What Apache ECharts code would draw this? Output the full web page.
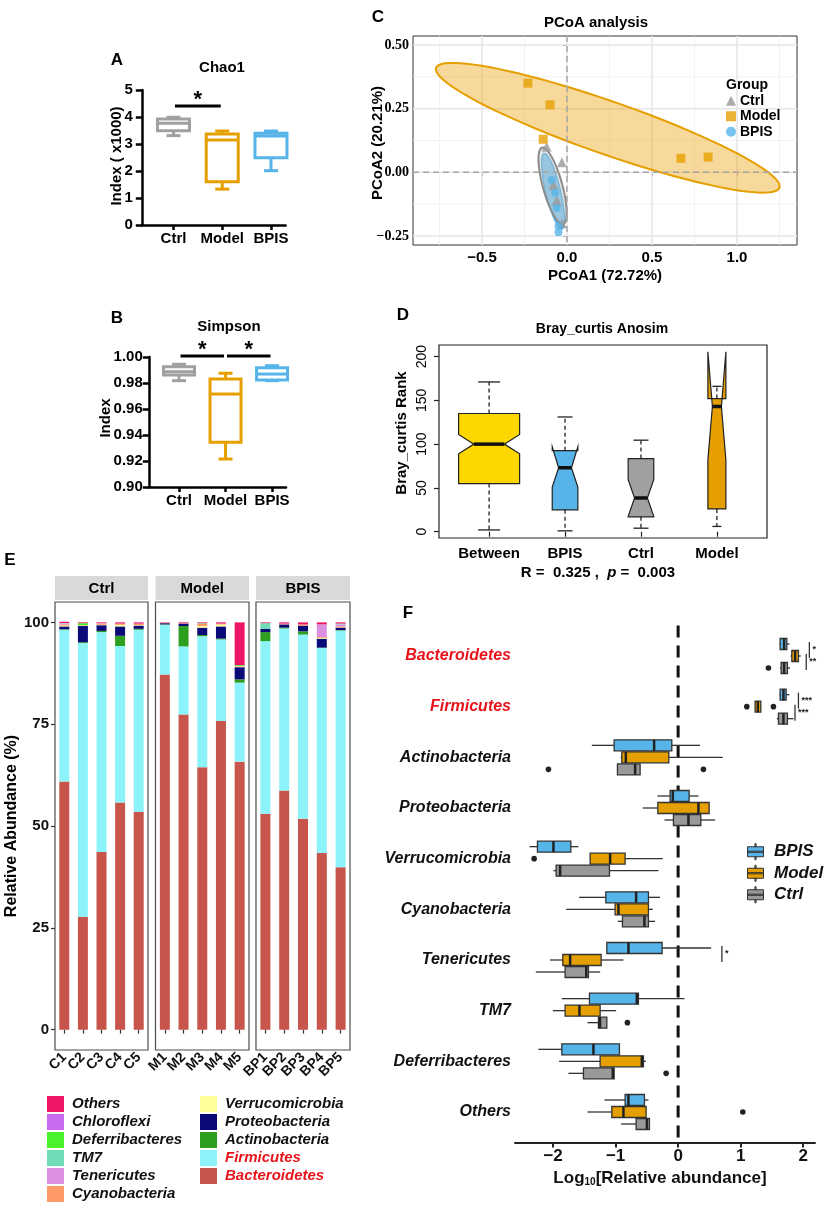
<!DOCTYPE html>
<html><head><meta charset="utf-8">
<script src="https://cdn.jsdelivr.net/npm/echarts@6/dist/echarts.min.js"></script>
<style>html,body{margin:0;padding:0;background:#fff}#c{width:829px;height:1207px}</style>
</head><body><div id="c"></div><script>
// ---------------- DATA ----------------
// Panel A / B : alpha diversity boxes [min, q1, median, q3, max]
const alphaGroups = ['Ctrl', 'Model', 'BPIS'];
const chao1Box = [[3.31, 3.49, 3.77, 3.93, 3.99], [1.33, 1.60, 3.15, 3.37, 3.48], [2.01, 2.49, 3.30, 3.40, 3.48]];
const chao1Sig = [{ from: 1, to: 2, y: 4.41, label: '*' }];
const simpsonBox = [[0.9818, 0.9862, 0.9887, 0.9925, 0.9944], [0.9215, 0.9344, 0.9715, 0.9831, 0.9875], [0.9818, 0.9823, 0.9869, 0.9918, 0.9933]];
const simpsonSig = [{ from: 1, to: 2, y: 1.0008, label: '*' }, { from: 2, to: 3, y: 1.0008, label: '*' }];
const chao1Ticks = [0, 1, 2, 3, 4, 5];
const simpsonTicks = [0.90, 0.92, 0.94, 0.96, 0.98, 1.00];

// Panel C : PCoA
const pcoaCtrl = [[-0.12, 0.10], [-0.03, 0.04], [-0.08, -0.05], [-0.06, -0.11], [-0.03, -0.20]];
const pcoaModel = [[-0.23, 0.35], [-0.10, 0.265], [-0.14, 0.13], [0.67, 0.055], [0.83, 0.06]];
const pcoaBPIS = [[-0.09, -0.03], [-0.07, -0.08], [-0.06, -0.14], [-0.05, -0.21], [-0.05, -0.235]];
// ellipse: [centerX, centerY, axis1X, axis1Y, axis2X, axis2Y]
const ellipseModel = [0.24, 0.175, 1.01, -0.235, 0.051, 0.098];
const ellipseBPIS = [-0.082, -0.074, 0.053, -0.148, -0.042, -0.007];
const ellipseCtrl = [-0.085, -0.053, 0.062, -0.150, -0.055, -0.010];
const pcoaXTicks = [-0.5, 0, 0.5, 1.0];
const pcoaYTicks = [-0.25, 0, 0.25, 0.5];
const pcoaXMinor = [-0.75, -0.25, 0.25, 0.75, 1.25];
const pcoaYMinor = [-0.125, 0.125, 0.375];

// Panel D : ANOSIM notched boxes [lowWhisker, q1, median, q3, highWhisker, notchLow, notchHigh]
const anosimGroups = ['Between', 'BPIS', 'Ctrl', 'Model'];
const anosimBox = [[2, 55, 100, 135, 171, 89, 111], [1, 25, 73, 92.5, 131, 51, 97], [4, 17, 38.5, 83.5, 104.5, 17.5, 59.5], [6, 26, 143, 152, 166, 82, 205.5]];
const anosimTicks = [0, 50, 100, 150, 200];

// Panel E : relative abundance (%) per sample
const eSamples = ['C1', 'C2', 'C3', 'C4', 'C5', 'M1', 'M2', 'M3', 'M4', 'M5', 'BP1', 'BP2', 'BP3', 'BP4', 'BP5'];
const eFacets = ['Ctrl', 'Model', 'BPIS'];
const phyla = ['Bacteroidetes', 'Firmicutes', 'Actinobacteria', 'Proteobacteria', 'Verrucomicrobia', 'Cyanobacteria', 'Tenericutes', 'TM7', 'Deferribacteres', 'Chloroflexi', 'Others'];
const eBacteroidetes = [60.9, 27.7, 43.6, 55.8, 53.5, 87.2, 77.4, 64.4, 75.8, 65.8, 53.0, 58.7, 51.8, 43.4, 39.9];
const eFirmicutes = [37.3, 67.2, 54.0, 38.4, 44.7, 12.2, 16.7, 32.2, 20.0, 19.4, 42.4, 39.8, 45.2, 50.3, 58.1];
const eActinobacteria = [0.1, 0.2, 0.3, 2.5, 0.2, 0.1, 5.0, 0.3, 0.2, 0.8, 2.2, 0.2, 0.8, 0.1, 0.1];
const eProteobacteria = [0.7, 4.0, 1.4, 2.3, 0.8, 0.3, 0.6, 1.8, 3.0, 3.0, 0.8, 0.8, 1.4, 2.2, 0.6];
const eVerrucomicrobia = [0.2, 0.1, 0.1, 0.4, 0.1, 0.0, 0.0, 0.4, 0.5, 0.2, 0.0, 0.0, 0.0, 0.2, 0.0];
const eCyanobacteria = [0.3, 0.1, 0.3, 0.3, 0.3, 0.1, 0.1, 0.5, 0.2, 0.1, 0.0, 0.1, 0.3, 0.2, 0.3];
const eTenericutes = [0.2, 0.0, 0.1, 0.0, 0.1, 0.0, 0.0, 0.1, 0.0, 0.0, 0.0, 0.1, 0.0, 3.1, 0.5];
const eTM7 = [0.1, 0.0, 0.0, 0.0, 0.0, 0.0, 0.0, 0.0, 0.0, 0.0, 1.4, 0.0, 0.0, 0.0, 0.2];
const eDeferribacteres = [0.0, 0.5, 0.0, 0.0, 0.0, 0.0, 0.0, 0.1, 0.0, 0.2, 0.0, 0.0, 0.0, 0.0, 0.0];
const eChloroflexi = [0.05, 0.0, 0.0, 0.0, 0.0, 0.0, 0.0, 0.0, 0.0, 0.0, 0.0, 0.0, 0.0, 0.0, 0.0];
const eOthers = [0.3, 0.2, 0.2, 0.3, 0.3, 0.1, 0.2, 0.2, 0.3, 10.5, 0.2, 0.3, 0.5, 0.5, 0.3];
const eTicks = [0, 25, 50, 75, 100];

// Panel F : log10 relative abundance boxes [min, q1, median, q3, max]
const fPhyla = ['Bacteroidetes', 'Firmicutes', 'Actinobacteria', 'Proteobacteria', 'Verrucomicrobia', 'Cyanobacteria', 'Tenericutes', 'TM7', 'Deferribacteres', 'Others'];
const fBPIS = [[1.62, 1.632, 1.696, 1.739, 1.78], [1.62, 1.632, 1.685, 1.728, 1.78], [-1.381, -1.024, -0.384, -0.101, 0.352], [-0.331, -0.128, -0.085, 0.176, 0.325], [-2.379, -2.251, -1.995, -1.717, -1.595], [-1.584, -1.157, -0.672, -0.475, -0.288], [-1.141, -1.141, -0.795, -0.256, 0.528], [-1.861, -1.419, -0.661, -0.635, 0.101], [-2.235, -1.861, -1.355, -0.939, -0.939], [-1.179, -0.848, -0.795, -0.539, -0.475]];
const fModel = [[1.80, 1.819, 1.872, 1.925, 1.963], [1.232, 1.232, 1.275, 1.323, 1.323], [-0.92, -0.901, -0.837, -0.149, 0.715], [-0.565, -0.325, 0.325, 0.496, 0.496], [-1.408, -1.408, -1.088, -0.848, -0.245], [-1.792, -1.008, -0.955, -0.475, -0.405], [-2.048, -1.845, -1.728, -1.232, -0.875], [-2.005, -1.808, -1.579, -1.248, -0.992], [-1.904, -1.248, -0.581, -0.555, -0.517], [-1.451, -1.061, -0.875, -0.512, -0.512]];
const fCtrl = [[1.632, 1.648, 1.696, 1.749, 1.79], [1.58, 1.605, 1.685, 1.749, 1.845], [-0.971, -0.971, -0.688, -0.608, -0.608], [-0.219, -0.075, 0.165, 0.363, 0.592], [-1.995, -1.952, -1.888, -1.099, -0.315], [-0.965, -0.891, -0.539, -0.475, -0.368], [-2.277, -1.808, -1.47, -1.435, -1.248], [-1.451, -1.275, -1.25, -1.141, -1.141], [-1.755, -1.515, -1.045, -1.024, -1.024], [-0.912, -0.672, -0.50, -0.459, -0.459]];
// outliers [phylumIndex(1-based), value]
const fOutModel = [[2, 1.099], [2, 1.525], [5, -2.304], [10, 1.035]];
const fOutCtrl = [[1, 1.445], [3, -2.075], [3, 0.405], [8, -0.811], [9, -0.192]];
const fSig = [{ cat: 1, from: 'BPIS', to: 'Model', x: 2.10, label: '*' }, { cat: 1, from: 'Model', to: 'Ctrl', x: 2.05, label: '**' }, { cat: 2, from: 'BPIS', to: 'Model', x: 1.925, label: '***' }, { cat: 2, from: 'Model', to: 'Ctrl', x: 1.87, label: '***' }, { cat: 7, from: 'BPIS', to: 'Model', x: 0.70, label: '*' }];
const fTicks = [-2, -1, 0, 1, 2];

// ---------------- STYLE ----------------
const FONT = "'Liberation Sans', Arial, sans-serif";
const SERIF = "'Liberation Serif', 'Times New Roman', serif";
const GCOL = { Ctrl: '#A0A0A0', Model: '#E69F00', BPIS: '#56B4E9' };
const phylaColors = { Bacteroidetes: '#C8554B', Firmicutes: '#8DF3FA', Actinobacteria: '#2E9E1E', Proteobacteria: '#0A0A78', Verrucomicrobia: '#FFFF99', Cyanobacteria: '#FF9966', Tenericutes: '#DA8FE0', TM7: '#6EDDB5', Deferribacteres: '#4AF22E', Chloroflexi: '#C96BEF', Others: '#EE1767' };
const RED = '#E8141C';
const minus = s => String(s).replace('-', '\u2212');

const grids = [], xAxes = [], yAxes = [], series = [], graphics = [], legends = [];
function addGrid(g, x, y) { const i = grids.length; grids.push(g); xAxes.push(Object.assign({ gridIndex: i }, x)); yAxes.push(Object.assign({ gridIndex: i }, y)); return i; }
function txt(x, y, text, o) {
  o = o || {};
  graphics.push({ type: 'text', x: x, y: y, rotation: o.rot || 0, silent: true, style: Object.assign({ text: text, font: (o.italic ? 'italic ' : '') + (o.weight || 'bold') + ' ' + (o.size || 15) + 'px ' + (o.family || FONT), fill: o.color || '#000', align: o.align || 'center', verticalAlign: 'middle' }, o.extra || {}) });
}

// ---------- Panel A & B (GraphPad style boxes) ----------
function gpBoxRender(halfW, capHalf) {
  return function (params, api) {
    const x = api.value(0);
    const cx = api.coord([x, api.value(3)])[0];
    const Y = v => api.coord([x, v])[1];
    const mn = Y(api.value(1)), q1 = Y(api.value(2)), md = Y(api.value(3)), q3 = Y(api.value(4)), mx = Y(api.value(5));
    const color = GCOL[alphaGroups[params.dataIndex]];
    const ls = { stroke: color, lineWidth: 3, fill: null };
    return { type: 'group', children: [
      { type: 'line', shape: { x1: cx, y1: q3, x2: cx, y2: mx }, style: ls },
      { type: 'line', shape: { x1: cx - capHalf, y1: mx, x2: cx + capHalf, y2: mx }, style: ls },
      { type: 'line', shape: { x1: cx, y1: q1, x2: cx, y2: mn }, style: ls },
      { type: 'line', shape: { x1: cx - capHalf, y1: mn, x2: cx + capHalf, y2: mn }, style: ls },
      { type: 'rect', shape: { x: cx - halfW, y: q3, width: 2 * halfW, height: q1 - q3 }, style: { fill: '#fff', stroke: color, lineWidth: 3 } },
      { type: 'line', shape: { x1: cx - halfW, y1: md, x2: cx + halfW, y2: md }, style: ls }
    ] };
  };
}
function sigRender(arr) {
  return function (params, api) {
    const s = arr[params.dataIndex];
    const a = api.coord([s.from, s.y]), b = api.coord([s.to, s.y]);
    return { type: 'group', children: [
      { type: 'line', shape: { x1: a[0] + 1.5, y1: a[1], x2: b[0] - 1.5, y2: b[1] }, style: { stroke: '#000', lineWidth: 3 } },
      { type: 'text', x: (a[0] + b[0]) / 2, y: a[1] - 6, style: { text: s.label, font: 'bold 22px ' + FONT, fill: '#000', align: 'center', verticalAlign: 'middle' } }
    ] };
  };
}
function alphaAxes(min, max, ticks, fmt, margin) {
  return [
    { type: 'value', min: 0.35, max: 3.3, splitLine: { show: false },
      axisLine: { show: true, lineStyle: { color: '#000', width: 2.5 } },
      axisTick: { show: true, customValues: [1, 2, 3], length: 5, lineStyle: { color: '#000', width: 2.5 } },
      axisLabel: { customValues: [1, 2, 3], formatter: v => alphaGroups[Math.round(v) - 1] || '', color: '#000', fontWeight: 'bold', fontSize: 15, fontFamily: FONT, margin: 6 } },
    { type: 'value', min: min, max: max, splitLine: { show: false },
      axisLine: { show: true, lineStyle: { color: '#000', width: 2.5 } },
      axisTick: { show: true, customValues: ticks, length: 6, lineStyle: { color: '#000', width: 2.5 } },
      axisLabel: { customValues: ticks, formatter: fmt, color: '#000', fontWeight: 'bold', fontSize: 15, fontFamily: FONT, margin: margin } }
  ];
}
const axA = alphaAxes(0, 5, chao1Ticks, v => String(v), 9);
const gA = addGrid({ left: 141.8, top: 90, width: 143.8, height: 135 }, axA[0], axA[1]);
series.push({ type: 'custom', name: 'chao1', xAxisIndex: gA, yAxisIndex: gA, renderItem: gpBoxRender(16, 7), encode: { x: 0, y: [1, 2, 3, 4, 5] }, data: chao1Box.map((b, i) => [i + 1].concat(b)), z: 3 });
series.push({ type: 'custom', name: 'chao1sig', xAxisIndex: gA, yAxisIndex: gA, renderItem: sigRender(chao1Sig), encode: { x: 0, y: 2 }, data: chao1Sig.map(s => [s.from, s.to, s.y]), z: 3 });
const axB = alphaAxes(0.9, 1.0, simpsonTicks, v => v.toFixed(2), 6);
const gB = addGrid({ left: 148.8, top: 357, width: 137.2, height: 130 }, axB[0], axB[1]);
series.push({ type: 'custom', name: 'simpson', xAxisIndex: gB, yAxisIndex: gB, renderItem: gpBoxRender(15.5, 7), encode: { x: 0, y: [1, 2, 3, 4, 5] }, data: simpsonBox.map((b, i) => [i + 1].concat(b)), z: 3 });
series.push({ type: 'custom', name: 'simpsonsig', xAxisIndex: gB, yAxisIndex: gB, renderItem: sigRender(simpsonSig), encode: { x: 0, y: 2 }, data: simpsonSig.map(s => [s.from, s.to, s.y]), z: 3 });
txt(117, 60, 'A', { size: 17 });
txt(222, 68, 'Chao1', { size: 15 });
txt(117, 156, 'Index ( x1000)', { size: 15, rot: Math.PI / 2 });
txt(117, 318, 'B', { size: 17 });
txt(229, 327, 'Simpson', { size: 15 });
txt(106, 418, 'Index', { size: 15, rot: Math.PI / 2 });

// ---------- Panel C (PCoA) ----------
const gC = addGrid({ left: 413, top: 36, width: 384, height: 209, show: true, borderColor: '#333', borderWidth: 1, backgroundColor: '#fff' },
  { type: 'value', min: -0.906, max: 1.353, splitLine: { show: false }, axisLine: { show: false },
    axisTick: { show: true, customValues: pcoaXTicks, length: 4, lineStyle: { color: '#333', width: 1 } },
    axisLabel: { customValues: pcoaXTicks, formatter: v => minus(v.toFixed(1)), color: '#000', fontWeight: 'bold', fontSize: 15, fontFamily: FONT, margin: 5 } },
  { type: 'value', min: -0.285, max: 0.535, splitLine: { show: false }, axisLine: { show: false },
    axisTick: { show: true, customValues: pcoaYTicks, length: 4, lineStyle: { color: '#333', width: 1 } },
    axisLabel: { customValues: pcoaYTicks, formatter: v => minus(v.toFixed(2)), color: '#000', fontWeight: 'bold', fontSize: 14, fontFamily: SERIF, margin: 4 } });
function gridLineRender(vertical, width, color, dash) {
  return function (params, api) {
    const cs = params.coordSys;
    const v = api.value(0);
    if (vertical) { const x = api.coord([v, 0])[0]; return { type: 'line', shape: { x1: x, y1: cs.y, x2: x, y2: cs.y + cs.height }, style: { stroke: color, lineWidth: width, lineDash: dash || null } }; }
    const y = api.coord([0, v])[1]; return { type: 'line', shape: { x1: cs.x, y1: y, x2: cs.x + cs.width, y2: y }, style: { stroke: color, lineWidth: width, lineDash: dash || null } };
  };
}
series.push({ type: 'custom', name: 'gxm', xAxisIndex: gC, yAxisIndex: gC, silent: true, renderItem: gridLineRender(true, 0.8, '#EFEFEF'), encode: { x: 0 }, data: pcoaXMinor.map(v => [v]) });
series.push({ type: 'custom', name: 'gym', xAxisIndex: gC, yAxisIndex: gC, silent: true, renderItem: gridLineRender(false, 0.8, '#EFEFEF'), encode: { y: 0 }, data: pcoaYMinor.map(v => [v]) });
series.push({ type: 'custom', name: 'gxM', xAxisIndex: gC, yAxisIndex: gC, silent: true, renderItem: gridLineRender(true, 1.5, '#E6E6E6'), encode: { x: 0 }, data: pcoaXTicks.map(v => [v]) });
series.push({ type: 'custom', name: 'gyM', xAxisIndex: gC, yAxisIndex: gC, silent: true, renderItem: gridLineRender(false, 1.5, '#E6E6E6'), encode: { y: 0 }, data: pcoaYTicks.map(v => [v]) });
function ellipseRender(fill, stroke, lw) {
  return function (params, api) {
    const c = [0, 1, 2, 3, 4, 5].map(i => api.value(i));
    const pts = [];
    for (let k = 0; k <= 90; k++) { const t = k / 90 * 2 * Math.PI; pts.push(api.coord([c[0] + c[2] * Math.cos(t) + c[4] * Math.sin(t), c[1] + c[3] * Math.cos(t) + c[5] * Math.sin(t)])); }
    return { type: 'polygon', shape: { points: pts }, style: { fill: fill, stroke: stroke, lineWidth: lw } };
  };
}
series.push({ type: 'custom', name: 'ellModel', xAxisIndex: gC, yAxisIndex: gC, silent: true, renderItem: ellipseRender('rgba(236,165,20,0.42)', '#E69F00', 2), encode: { x: 0, y: 1 }, data: [ellipseModel] });
series.push({ type: 'custom', name: 'ellBPIS', xAxisIndex: gC, yAxisIndex: gC, silent: true, renderItem: ellipseRender('rgba(86,180,233,0.7)', '#56B4E9', 1.5), encode: { x: 0, y: 1 }, data: [ellipseBPIS] });
series.push({ type: 'custom', name: 'ellCtrl', xAxisIndex: gC, yAxisIndex: gC, silent: true, renderItem: ellipseRender('rgba(190,190,190,0.35)', '#8C8C8C', 2), encode: { x: 0, y: 1 }, data: [ellipseCtrl] });
series.push({ type: 'custom', name: 'zeroX', xAxisIndex: gC, yAxisIndex: gC, silent: true, renderItem: gridLineRender(true, 1.5, '#A6A6A6', [6, 4]), encode: { x: 0 }, data: [[0]] });
series.push({ type: 'custom', name: 'zeroY', xAxisIndex: gC, yAxisIndex: gC, silent: true, renderItem: gridLineRender(false, 1.5, '#A6A6A6', [6, 4]), encode: { y: 0 }, data: [[0]] });
series.push({ type: 'scatter', name: 'Ctrl', xAxisIndex: gC, yAxisIndex: gC, symbol: 'triangle', symbolSize: 10, itemStyle: { color: '#999999' }, data: pcoaCtrl, z: 4 });
series.push({ type: 'scatter', name: 'Model', xAxisIndex: gC, yAxisIndex: gC, symbol: 'rect', symbolSize: 9, itemStyle: { color: '#E69F00' }, data: pcoaModel, z: 4 });
series.push({ type: 'scatter', name: 'BPIS', xAxisIndex: gC, yAxisIndex: gC, symbol: 'circle', symbolSize: 8, itemStyle: { color: '#56B4E9' }, data: pcoaBPIS, z: 4 });
legends.push({ left: 726, top: 93, orient: 'vertical', padding: 0, itemGap: 0, itemWidth: 10, itemHeight: 10, selectedMode: false,
  textStyle: { fontFamily: FONT, fontWeight: 'bold', fontSize: 14, color: '#000', lineHeight: 15.5, padding: [0, 0, 0, -1] },
  data: [{ name: 'Ctrl', icon: 'triangle' }, { name: 'Model', icon: 'rect' }, { name: 'BPIS', icon: 'circle' }] });
txt(726, 85, 'Group', { size: 14, align: 'left' });
txt(378, 17, 'C', { size: 17 });
txt(596, 23, 'PCoA analysis', { size: 15 });
txt(378, 143, 'PCoA2 (20.21%)', { size: 15, rot: Math.PI / 2 });
txt(605, 276, 'PCoA1 (72.72%)', { size: 15 });

// ---------- Panel D (ANOSIM) ----------
const dColors = ['#FFD700', '#56B4E9', '#A0A0A0', '#E69F00'];
const dHalf = [30.5, 12.8, 12.8, 9];
const dCap = [11, 7.5, 7.5, 4.5];
const gD = addGrid({ left: 439, top: 345, width: 328, height: 193, show: true, borderColor: '#222', borderWidth: 1.2, backgroundColor: '#fff' },
  { type: 'value', min: 0.34, max: 4.66, splitLine: { show: false }, axisLine: { show: false },
    axisTick: { show: true, customValues: [1, 2, 3, 4], length: 5, lineStyle: { color: '#222', width: 1.2 } },
    axisLabel: { customValues: [1, 2, 3, 4], formatter: v => anosimGroups[Math.round(v) - 1] || '', color: '#000', fontWeight: 'bold', fontSize: 15, fontFamily: FONT, margin: 8 } },
  { type: 'value', min: -7.2, max: 213.2, splitLine: { show: false }, axisLine: { show: false },
    axisTick: { show: true, customValues: anosimTicks, length: 5, lineStyle: { color: '#222', width: 1.2 } },
    axisLabel: { customValues: anosimTicks, rotate: 90, color: '#000', fontSize: 14, fontFamily: FONT, margin: 10 } });
function notchRender(params, api) {
  const i = params.dataIndex;
  const x = api.value(0);
  const v = [1, 2, 3, 4, 5, 6, 7].map(k => api.value(k));
  const cx = api.coord([x, v[2]])[0];
  const Y = t => api.coord([x, t])[1];
  const hw = dHalf[i], cap = dCap[i];
  const lw = Y(v[0]), q1 = Y(v[1]), md = Y(v[2]), q3 = Y(v[3]), uw = Y(v[4]), nl = Y(v[5]), nh = Y(v[6]);
  const pts = [[cx - hw, q1], [cx - hw, nl], [cx - hw / 2, md], [cx - hw, nh], [cx - hw, q3], [cx + hw, q3], [cx + hw, nh], [cx + hw / 2, md], [cx + hw, nl], [cx + hw, q1]];
  const dash = { stroke: '#222', lineWidth: 1.3, lineDash: [4, 3] };
  const solid = { stroke: '#222', lineWidth: 1.3 };
  return { type: 'group', children: [
    { type: 'polygon', shape: { points: pts }, style: { fill: dColors[i], stroke: '#222', lineWidth: 1.2 } },
    { type: 'line', shape: { x1: cx, y1: q3, x2: cx, y2: uw }, style: dash },
    { type: 'line', shape: { x1: cx, y1: q1, x2: cx, y2: lw }, style: dash },
    { type: 'line', shape: { x1: cx - cap, y1: uw, x2: cx + cap, y2: uw }, style: solid },
    { type: 'line', shape: { x1: cx - cap, y1: lw, x2: cx + cap, y2: lw }, style: solid },
    { type: 'line', shape: { x1: cx - hw / 2, y1: md, x2: cx + hw / 2, y2: md }, style: { stroke: '#111', lineWidth: 3.5 } }
  ] };
}
series.push({ type: 'custom', name: 'anosim', xAxisIndex: gD, yAxisIndex: gD, renderItem: notchRender, encode: { x: 0, y: [1, 2, 3, 4, 5] }, data: anosimBox.map((b, i) => [i + 1].concat(b)) });
txt(403, 315, 'D', { size: 17 });
txt(602, 329, 'Bray_curtis Anosim', { size: 14 });
txt(402, 433, 'Bray_curtis Rank', { size: 15, rot: Math.PI / 2 });
graphics.push({ type: 'text', x: 598, y: 573, silent: true, style: { text: 'R =  0.325 ,  {i|p} =  0.003', font: 'bold 15px ' + FONT, fill: '#000', align: 'center', verticalAlign: 'middle', rich: { i: { fontStyle: 'italic', fontWeight: 'bold', fontSize: 15, fontFamily: FONT } } } });

// ---------- Panel E (stacked bars, 3 facets) ----------
const eValues = { Bacteroidetes: eBacteroidetes, Firmicutes: eFirmicutes, Actinobacteria: eActinobacteria, Proteobacteria: eProteobacteria, Verrucomicrobia: eVerrucomicrobia, Cyanobacteria: eCyanobacteria, Tenericutes: eTenericutes, TM7: eTM7, Deferribacteres: eDeferribacteres, Chloroflexi: eChloroflexi, Others: eOthers };
const eFacetLeft = [55, 155.5, 256];
const eFacetW = [93, 93.5, 94];
eFacets.forEach((f, fi) => {
  const gi = addGrid({ left: eFacetLeft[fi], top: 602, width: eFacetW[fi], height: 448, show: true, borderColor: '#4D4D4D', borderWidth: 1.2, backgroundColor: '#fff' },
    { type: 'category', data: eSamples.slice(fi * 5, fi * 5 + 5), axisLine: { show: false },
      axisTick: { show: true, alignWithLabel: true, length: 4, lineStyle: { color: '#333', width: 1.2 } },
      axisLabel: { rotate: 45, color: '#111', fontWeight: 'bold', fontSize: 14, fontFamily: FONT, margin: 5, interval: 0 } },
    { type: 'value', min: -5, max: 105, show: fi === 0, splitLine: { show: false }, axisLine: { show: false },
      axisTick: { show: fi === 0, customValues: eTicks, length: 4, lineStyle: { color: '#333', width: 1.2 } },
      axisLabel: { show: fi === 0, customValues: eTicks, color: '#111', fontWeight: 'bold', fontSize: 15, fontFamily: FONT, margin: 6 } });
  phyla.forEach(p => {
    series.push({ type: 'bar', name: p, xAxisIndex: gi, yAxisIndex: gi, stack: 'E' + fi, barWidth: 10, itemStyle: { color: phylaColors[p] }, data: eValues[p].slice(fi * 5, fi * 5 + 5) });
  });
  graphics.push({ type: 'rect', silent: true, shape: { x: eFacetLeft[fi], y: 576, width: eFacetW[fi], height: 24 }, style: { fill: '#D9D9D9' } });
  txt(eFacetLeft[fi] + eFacetW[fi] / 2, 589, f, { size: 15 });
});
const legCol1 = ['Others', 'Chloroflexi', 'Deferribacteres', 'TM7', 'Tenericutes', 'Cyanobacteria'];
const legCol2 = ['Verrucomicrobia', 'Proteobacteria', 'Actinobacteria', 'Firmicutes', 'Bacteroidetes'];
[[legCol1, 47], [legCol2, 200]].forEach(([names, left]) => {
  legends.push({ left: left, top: 1095, orient: 'vertical', padding: 0, itemGap: 0, itemWidth: 17, itemHeight: 16, icon: 'rect', selectedMode: false,
    textStyle: { fontFamily: FONT, fontWeight: 'bold', fontStyle: 'italic', fontSize: 15, color: '#111', lineHeight: 18, padding: [0, 0, 0, 3] },
    data: names.map(n => (n === 'Firmicutes' || n === 'Bacteroidetes') ? { name: n, textStyle: { color: RED } } : { name: n }) });
});
txt(10, 560, 'E', { size: 17 });
txt(12, 826, 'Relative Abundance (%)', { size: 16, rot: Math.PI / 2 });

// ---------- Panel F (horizontal grouped boxes) ----------
const fOffset = { BPIS: -12, Model: 0, Ctrl: 12 };
const gF = addGrid({ left: 515, top: 625.6, width: 300, height: 516.8 },
  { type: 'value', min: -2.61, max: 2.19, splitLine: { show: false },
    axisLine: { show: true, lineStyle: { color: '#222', width: 2 } },
    axisTick: { show: true, customValues: fTicks, length: 5, lineStyle: { color: '#222', width: 2 } },
    axisLabel: { customValues: fTicks, formatter: v => minus(v), color: '#111', fontWeight: 'bold', fontSize: 17, fontFamily: FONT, margin: 5 } },
  { type: 'value', min: 0.4, max: 10.6, inverse: true, splitLine: { show: false }, axisLine: { show: false }, axisTick: { show: false },
    axisLabel: { customValues: fPhyla.map((p, i) => i + 1), margin: 4,
      formatter: v => { const n = fPhyla[Math.round(v) - 1]; if (!n) return ''; return (n === 'Bacteroidetes' || n === 'Firmicutes') ? '{r|' + n + '}' : '{k|' + n + '}'; },
      rich: { r: { color: RED, fontStyle: 'italic', fontWeight: 'bold', fontSize: 16, fontFamily: FONT }, k: { color: '#111', fontStyle: 'italic', fontWeight: 'bold', fontSize: 16, fontFamily: FONT } } } });
series.push({ type: 'custom', name: 'fZero', xAxisIndex: gF, yAxisIndex: gF, silent: true, renderItem: gridLineRender(true, 3, '#111', [12, 8]), encode: { x: 0 }, data: [[0]], z: 1 });
function fBoxRender(off, color) {
  return function (params, api) {
    const cat = api.value(0);
    const y = api.coord([0, cat])[1] + off;
    const X = v => api.coord([v, cat])[0];
    const mn = X(api.value(1)), q1 = X(api.value(2)), md = X(api.value(3)), q3 = X(api.value(4)), mx = X(api.value(5));
    const h = 5.5;
    const ls = { stroke: '#333', lineWidth: 1.3 };
    return { type: 'group', children: [
      { type: 'line', shape: { x1: mn, y1: y, x2: q1, y2: y }, style: ls },
      { type: 'line', shape: { x1: q3, y1: y, x2: mx, y2: y }, style: ls },
      { type: 'rect', shape: { x: q1, y: y - h, width: Math.max(q3 - q1, 1), height: 2 * h }, style: { fill: color, stroke: '#333', lineWidth: 1.3 } },
      { type: 'line', shape: { x1: md, y1: y - h, x2: md, y2: y + h }, style: { stroke: '#222', lineWidth: 2.5 } }
    ] };
  };
}
function fOutRender(off) {
  return function (params, api) { const p = api.coord([api.value(1), api.value(0)]); return { type: 'circle', shape: { cx: p[0], cy: p[1] + off, r: 2.8 }, style: { fill: '#222' } }; };
}
const fCol = { BPIS: '#56B4E9', Model: '#E69F00', Ctrl: '#999999' };
[['BPIS', fBPIS], ['Model', fModel], ['Ctrl', fCtrl]].forEach(([g, arr]) => {
  series.push({ type: 'custom', name: 'F-' + g, xAxisIndex: gF, yAxisIndex: gF, itemStyle: { color: fCol[g] }, renderItem: fBoxRender(fOffset[g], fCol[g]), encode: { x: [1, 2, 3, 4, 5], y: 0 }, data: arr.map((b, i) => [i + 1].concat(b)), z: 3 });
});
series.push({ type: 'custom', name: 'fOutModel', xAxisIndex: gF, yAxisIndex: gF, renderItem: fOutRender(fOffset.Model), encode: { x: 1, y: 0 }, data: fOutModel, z: 3 });
series.push({ type: 'custom', name: 'fOutCtrl', xAxisIndex: gF, yAxisIndex: gF, renderItem: fOutRender(fOffset.Ctrl), encode: { x: 1, y: 0 }, data: fOutCtrl, z: 3 });
series.push({ type: 'custom', name: 'fSig', xAxisIndex: gF, yAxisIndex: gF, encode: { x: 0, y: 1 }, data: fSig.map(s => [s.x, s.cat]), z: 3,
  renderItem: function (params, api) {
    const s = fSig[params.dataIndex];
    const p = api.coord([api.value(0), api.value(1)]);
    const y1 = p[1] + fOffset[s.from] - 2, y2 = p[1] + fOffset[s.to] + 2;
    return { type: 'group', children: [
      { type: 'line', shape: { x1: p[0], y1: y1, x2: p[0], y2: y2 }, style: { stroke: '#333', lineWidth: 1.3 } },
      { type: 'text', x: p[0] + 3, y: (y1 + y2) / 2, style: { text: s.label, font: 'bold 9px ' + FONT, fill: '#222', align: 'left', verticalAlign: 'middle' } }
    ] };
  } });
legends.push({ left: 747, top: 841, orient: 'vertical', padding: 0, itemGap: 0, itemWidth: 17, itemHeight: 16, selectedMode: false,
  icon: 'path://M0,3 H16 V13 H0 Z M0,7.4 H16 V8.6 H0 Z M7.4,0 H8.6 V3 H7.4 Z M7.4,13 H8.6 V16 H7.4 Z',
  itemStyle: { borderColor: '#333', borderWidth: 1 },
  formatter: n => n.replace('F-', ''),
  textStyle: { fontFamily: FONT, fontWeight: 'bold', fontStyle: 'italic', fontSize: 17, color: '#111', lineHeight: 21.5, padding: [0, 0, 0, 5] },
  data: ['F-BPIS', 'F-Model', 'F-Ctrl'] });
txt(408, 613, 'F', { size: 17 });
graphics.push({ type: 'text', x: 660, y: 1178, silent: true, style: { text: 'Log{s|10}[Relative abundance]', font: 'bold 17px ' + FONT, fill: '#111', align: 'center', verticalAlign: 'middle', rich: { s: { fontSize: 10, fontWeight: 'bold', fontFamily: FONT, fill: '#111', padding: [9, 0, 0, 0] } } } });

const chart = echarts.init(document.getElementById('c'), null, { renderer: 'canvas' });
chart.setOption({ animation: false, backgroundColor: '#fff', textStyle: { fontFamily: FONT }, grid: grids, xAxis: xAxes, yAxis: yAxes, series: series, legend: legends, graphic: { elements: graphics } });
</script></body></html>
